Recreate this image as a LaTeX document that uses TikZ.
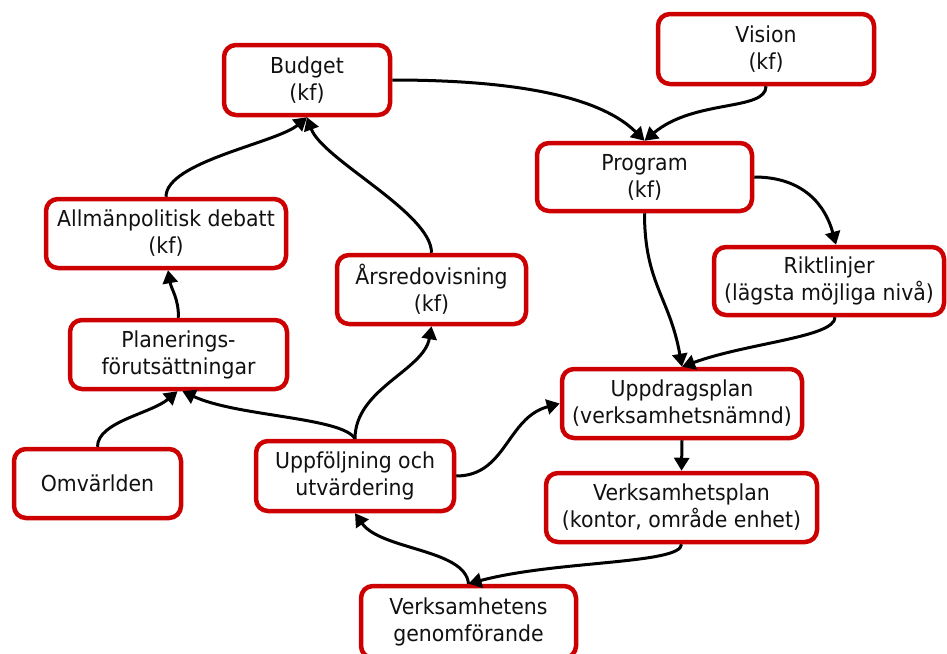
\documentclass[tikz,border=0pt]{standalone}
\usepackage{fontspec}
\setmainfont{DejaVu Sans}[FakeStretch=0.93]
\usetikzlibrary{arrows.meta}
\definecolor{boxred}{HTML}{CC0000}
\definecolor{txt}{HTML}{111111}
\begin{document}
\begin{tikzpicture}[x=1pt,y=1pt,
  box/.style={draw=boxred, line width=4.5pt, rounded corners=12pt, fill=white,
    align=center, inner sep=0pt, text=txt,
    font=\fontsize{22}{27}\selectfont},
  conn/.style={line width=3pt, draw=black,
    -{Triangle[length=13pt,width=15pt]}}]
\useasboundingbox (0,0) rectangle (947,-653);

\node[box, minimum width=166pt, minimum height=70pt] (budget) at (307,-80) {Budget\\(kf)};
\node[box, minimum width=216pt, minimum height=70pt] (vision) at (766,-49) {Vision\\(kf)};
\node[box, minimum width=215pt, minimum height=68pt] (program) at (644.5,-177) {Program\\(kf)};
\node[box, minimum width=240pt, minimum height=69pt] (allm) at (166,-233.5) {Allmänpolitisk debatt\\(kf)};
\node[box, minimum width=189pt, minimum height=69pt] (ars) at (431.5,-289.5) {Årsredovisning\\(kf)};
\node[box, minimum width=230pt, minimum height=68pt] (rikt) at (829,-281) {Riktlinjer\\(lägsta möjliga nivå)};
\node[box, minimum width=217pt, minimum height=69pt] (plan) at (178.5,-354.5) {Planerings-\\förutsättningar};
\node[box, minimum width=240pt, minimum height=69pt] (uppd) at (682,-403.5) {Uppdragsplan\\(verksamhetsnämnd)};
\node[box, minimum width=167pt, minimum height=69pt] (omv) at (97.5,-483.5) {Omvärlden};
\node[box, minimum width=198pt, minimum height=70pt] (uppf) at (355,-476) {Uppföljning och\\utvärdering};
\node[box, minimum width=271pt, minimum height=69pt] (vplan) at (681.5,-507.5) {Verksamhetsplan\\(kontor, område enhet)};
\node[box, minimum width=215pt, minimum height=72pt] (vgen) at (468.5,-622) {Verksamhetens\\genomförande};

\draw[conn] (budget.east) .. controls +(0:130) and +(135:60) .. (program.north);
\draw[conn] (vision.south) .. controls +(-90:25) and +(40:65) .. (program.north);
\draw[conn] (program.east) .. controls +(0:50) and +(105:40) .. ([xshift=7pt]rikt.north);
\draw[conn] (program.south) .. controls +(-90:70) and +(100:70) .. (uppd.north);
\draw[conn] ([xshift=6pt]rikt.south) .. controls +(-90:20) and +(20:70) .. (uppd.north);
\draw[conn] (uppd.south) -- (vplan.north);
\draw[conn] (vplan.south) .. controls +(-90:20) and +(15:90) .. (vgen.north);
\draw[conn] (vgen.north) .. controls +(95:35) and +(-55:45) .. (uppf.south);
\draw[conn] (uppf.east) .. controls +(0:50) and +(195:55) .. (uppd.west);
\draw[conn] (uppf.north) .. controls +(90:50) and +(-100:45) .. (ars.south);
\draw[conn] (uppf.north) .. controls +(120:25) and +(-25:60) .. ([xshift=4pt]plan.south);
\draw[conn] (omv.north) .. controls +(90:25) and +(-140:35) .. ([xshift=-1pt]plan.south);
\draw[conn] (plan.north) .. controls +(90:20) and +(-80:20) .. ([xshift=2pt]allm.south);
\draw[conn] (allm.north) .. controls +(90:35) and +(-140:40) .. (budget.south);
\draw[conn] (ars.north) .. controls +(90:40) and +(-70:45) .. (budget.south);
\end{tikzpicture}
\end{document}
